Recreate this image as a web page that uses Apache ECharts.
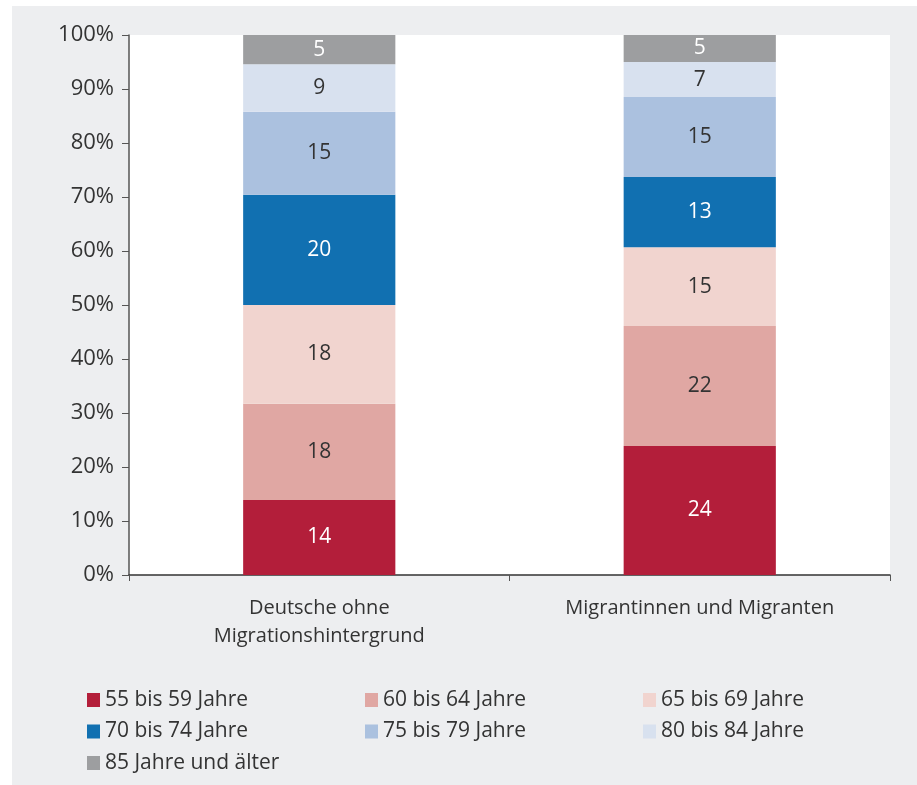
<!DOCTYPE html>
<html>
<head>
<meta charset="utf-8">
<script src="https://cdn.jsdelivr.net/npm/echarts@6/dist/echarts.min.js"></script>
<style>
  html, body { margin: 0; padding: 0; background: #ffffff; }
  #chart { width: 917px; height: 785px; }
</style>
</head>
<body>
<div id="chart"></div>
<script>
// Kategorien
const categories = ['Deutsche ohne\nMigrationshintergrund', 'Migrantinnen und Migranten']

// Altersgruppen (Anteile in %)
const ageGroups = [
  '55 bis 59 Jahre', '60 bis 64 Jahre', '65 bis 69 Jahre',
  '70 bis 74 Jahre', '75 bis 79 Jahre', '80 bis 84 Jahre', '85 Jahre und älter'
]
const deutscheValues = [13.9, 17.8, 18.3, 20.4, 15.4, 8.8, 5.4]
const migrantValues = [23.9, 22.2, 14.6, 13.0, 14.8, 6.5, 5.0]
const yTicks = [0, 10, 20, 30, 40, 50, 60, 70, 80, 90, 100]

const colors = ['#b31e3a', '#e0a7a3', '#f1d4cf', '#1170b1', '#abc1df', '#d8e1ef', '#9d9ea0']
const labelColors = ['#ffffff', '#333333', '#333333', '#ffffff', '#333333', '#333333', '#ffffff']

const FONT = 'Open Sans'
const chart = echarts.init(document.getElementById('chart'))

const series = ageGroups.map((name, i) => ({
  name: name,
  type: 'bar',
  stack: 'total',
  barWidth: '40%',
  data: [deutscheValues[i], migrantValues[i]],
  itemStyle: { color: colors[i] },
  label: {
    show: true,
    position: 'inside',
    color: labelColors[i],
    fontFamily: FONT,
    fontSize: 21,
    formatter: p => Math.round(p.value)
  }
}))

const legendBase = {
  orient: 'vertical',
  padding: 0,
  itemWidth: 13,
  itemHeight: 14,
  itemGap: 9.5,
  icon: 'rect',
  textStyle: { fontFamily: FONT, fontSize: 21, color: '#333333', lineHeight: 22, padding: [0, 0, 0, 0] }
}

const option = {
  animation: false,
  backgroundColor: '#ffffff',
  graphic: [{
    type: 'rect',
    z: -10,
    shape: { x: 12, y: 6, width: 905, height: 779 },
    style: { fill: '#edeef0' }
  }],
  grid: {
    left: 129, right: 27, top: 35, bottom: 210,
    show: true, backgroundColor: '#ffffff', borderWidth: 0
  },
  legend: [
    Object.assign({}, legendBase, { left: 87, top: 689, data: [ageGroups[0], ageGroups[3], ageGroups[6]] }),
    Object.assign({}, legendBase, { left: 365, top: 689, data: [ageGroups[1], ageGroups[4]] }),
    Object.assign({}, legendBase, { left: 643, top: 689, data: [ageGroups[2], ageGroups[5]] })
  ],
  xAxis: {
    type: 'category',
    data: categories,
    axisLine: { lineStyle: { color: '#333333', width: 1.5 } },
    axisTick: { show: true, length: 6, lineStyle: { color: '#555555' } },
    axisLabel: { fontFamily: FONT, fontSize: 20, color: '#333333', lineHeight: 28, margin: 19 }
  },
  yAxis: {
    type: 'value',
    min: 0,
    max: 100,
    interval: 10,
    splitLine: { show: false },
    axisLine: { show: true, lineStyle: { color: '#555555', width: 1.5 } },
    axisTick: { show: true, length: 7, lineStyle: { color: '#555555' } },
    axisLabel: {
      fontFamily: FONT, fontSize: 22, color: '#333333', margin: 15,
      customValues: yTicks,
      formatter: v => v + '%'
    }
  },
  series: series
}

chart.setOption(option)
</script>
</body>
</html>
